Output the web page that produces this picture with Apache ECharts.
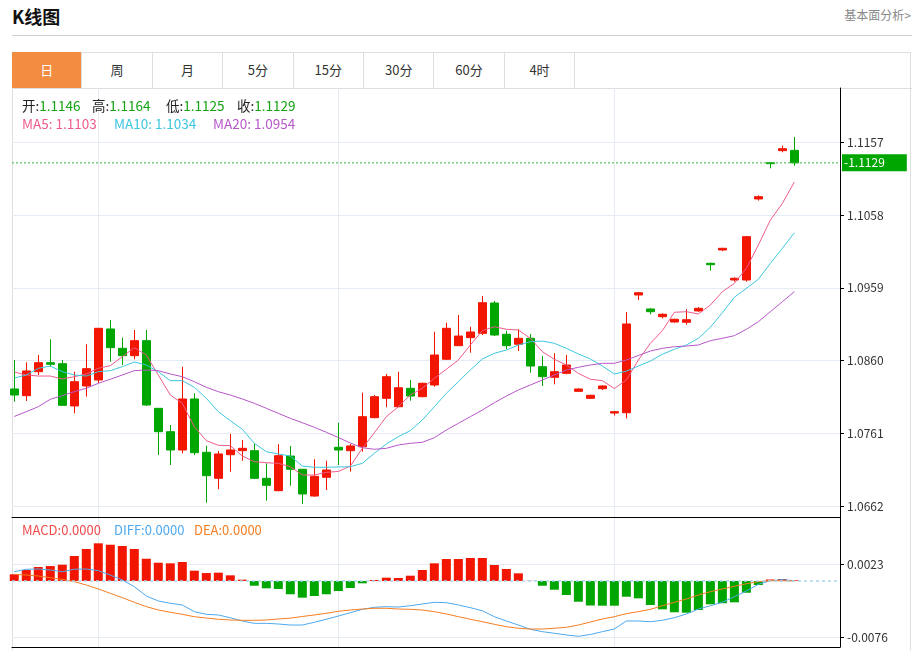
<!DOCTYPE html>
<html>
<head>
<meta charset="utf-8">
<script src="https://cdn.jsdelivr.net/npm/echarts@6/dist/echarts.min.js"></script>
<style>
  html,body{margin:0;padding:0;background:#fff;width:915px;height:650px;overflow:hidden;
    font-family:"Noto Sans CJK SC","Noto Sans",sans-serif;}
  .abs{position:absolute;white-space:nowrap;}
  #title{left:12px;top:4px;font-size:18px;font-weight:bold;color:#111;line-height:24px;}
  #more{right:4px;top:6px;font-size:12px;color:#888;line-height:18px;}
  #sep{left:12px;top:35px;width:900px;height:1px;background:#cfcfcf;}
  #box{left:12px;top:52px;width:899px;height:600px;border:1px solid #dedede;box-sizing:border-box;}
  #tabs{left:12px;top:52px;width:900px;height:37px;border-bottom:1px solid #dedede;box-sizing:border-box;}
  .tab{position:absolute;top:0;height:36px;line-height:36px;text-align:center;font-size:13px;color:#333;
    border-right:1px solid #dedede;box-sizing:border-box;}
  .tab.on{background:#f28c40;color:#fff;}
  .info{font-size:13.5px;line-height:18px;}
  .lbl{color:#222;}
  .grn{color:#13a313;}
  #chart{position:absolute;left:0;top:0;width:915px;height:650px;}
</style>
</head>
<body>
<div id="title" class="abs">K线图</div>
<div id="more" class="abs">基本面分析&gt;</div>
<div id="sep" class="abs"></div>
<div id="box" class="abs"></div>
<div id="tabs" class="abs"></div>
<div id="chart"></div>
<div id="info"></div>
<script>
// ---------- data ----------
var tabNames = ['日','周','月','5分','15分','30分','60分','4时'];
var priceTicks = [1.0662, 1.0761, 1.0860, 1.0959, 1.1058, 1.1157];
var macdTicks = [-0.0076, 0.0023];
var monthLines = [7, 27, 50];

var opens = [1.08215,1.08124,1.08450,1.08573,1.08559,1.07984,1.08256,1.08337,1.09031,1.08768,
1.08668,1.08872,1.07952,1.07634,1.07385,1.08079,1.07354,1.07000,1.07321,1.07376,
1.07376,1.07000,1.06832,1.07303,1.07123,1.06759,1.07014,1.07422,1.07376,1.07430,
1.07825,1.08088,1.07974,1.08224,1.08110,1.08269,1.08619,1.08804,1.08913,1.08972,
1.09384,1.08959,1.08823,1.08904,1.08518,1.08374,1.08428,1.08183,1.08088,1.08219,
1.07888,1.07892,1.09493,1.09303,1.09198,1.09126,1.09122,1.09276,1.09924,1.10105,
1.09697,1.09697,1.10799,1.11292,1.11456,1.1146];
var closes = [1.08133,1.08460,1.08573,1.08551,1.07993,1.08314,1.08491,1.09040,1.08777,1.08668,
1.08872,1.07997,1.07634,1.07385,1.08079,1.07349,1.07036,1.07331,1.07385,1.07408,
1.07000,1.06905,1.07308,1.07123,1.06787,1.07027,1.07113,1.07385,1.07440,1.07838,
1.08110,1.08382,1.08232,1.08119,1.08292,1.08677,1.09040,1.08935,1.08990,1.09388,
1.08949,1.08804,1.08904,1.08527,1.08382,1.08450,1.08541,1.08215,1.08129,1.08256,
1.07906,1.09099,1.09524,1.09266,1.09231,1.09163,1.09157,1.09312,1.09905,1.10128,
1.09720,1.10286,1.10830,1.11279,1.11483,1.1129];
var lows = [1.08042,1.08052,1.08405,1.08518,1.07984,1.07884,1.08110,1.08296,1.08586,1.08541,
1.08619,1.07984,1.07317,1.07181,1.07340,1.07317,1.06668,1.06851,1.07090,1.07240,
1.06990,1.06696,1.06825,1.06900,1.06651,1.06750,1.06841,1.07181,1.07090,1.07362,
1.07816,1.07966,1.07966,1.08056,1.08102,1.08246,1.08609,1.08804,1.08708,1.08949,
1.08935,1.08755,1.08731,1.08436,1.08256,1.08278,1.08415,1.08178,1.08079,1.08201,
1.07854,1.07816,1.09425,1.09231,1.09176,1.09116,1.09089,1.09266,1.09824,1.10091,
1.09674,1.09674,1.10776,1.11216,1.11434,1.1125];
var highs = [1.08609,1.08578,1.08677,1.08891,1.08609,1.08450,1.08823,1.09044,1.09153,1.08913,
1.09017,1.09017,1.07952,1.07725,1.08518,1.08156,1.07444,1.07371,1.07603,1.07521,
1.07476,1.07204,1.07463,1.07440,1.07123,1.07259,1.07240,1.07756,1.07467,1.08165,
1.08133,1.08419,1.08450,1.08337,1.08300,1.08994,1.09116,1.09221,1.09062,1.09479,
1.09411,1.09008,1.09027,1.08963,1.08663,1.08700,1.08677,1.08224,1.08137,1.08265,
1.07916,1.09262,1.09534,1.09312,1.09244,1.09171,1.09299,1.09326,1.09932,1.10136,
1.09734,1.10295,1.10849,1.11292,1.11524,1.1164];
var ma5 = [1.08446,1.08405,1.08391,1.08391,1.08351,1.08382,1.08419,1.08496,1.08532,1.08654,
1.08776,1.08677,1.08405,1.08133,1.08020,1.07702,1.07512,1.07449,1.07444,1.07303,
1.07226,1.07212,1.07204,1.07158,1.07045,1.07045,1.07082,1.07093,1.07167,1.07408,
1.07620,1.07838,1.07974,1.08133,1.08224,1.08360,1.08483,1.08609,1.08813,1.09008,
1.09062,1.09027,1.09017,1.08904,1.08722,1.08619,1.08541,1.08428,1.08347,1.08328,
1.08221,1.08337,1.08609,1.08836,1.09008,1.09258,1.09266,1.09235,1.09357,1.09538,
1.09652,1.09856,1.10173,1.10513,1.10740,1.1103];
var ma10 = [1.08364,1.08405,1.08496,1.08527,1.08450,1.08405,1.08391,1.08450,1.08464,1.08518,
1.08582,1.08541,1.08450,1.08328,1.08328,1.08238,1.08088,1.07906,1.07784,1.07667,
1.07476,1.07362,1.07331,1.07303,1.07167,1.07150,1.07150,1.07154,1.07158,1.07204,
1.07340,1.07467,1.07566,1.07648,1.07793,1.07974,1.08156,1.08314,1.08473,1.08623,
1.08700,1.08745,1.08813,1.08858,1.08867,1.08836,1.08768,1.08691,1.08623,1.08527,
1.08419,1.08457,1.08527,1.08595,1.08687,1.08755,1.08813,1.08904,1.09054,1.09252,
1.09462,1.09584,1.09707,1.09924,1.10128,1.1034];
var ma20 = [1.07841,1.07906,1.07974,1.08075,1.08124,1.08178,1.08224,1.08292,1.08347,1.08405,
1.08464,1.08473,1.08464,1.08419,1.08382,1.08314,1.08238,1.08178,1.08133,1.08079,
1.08020,1.07952,1.07884,1.07816,1.07756,1.07694,1.07626,1.07555,1.07480,1.07416,
1.07395,1.07408,1.07453,1.07476,1.07490,1.07552,1.07657,1.07748,1.07838,1.07929,
1.08028,1.08119,1.08201,1.08269,1.08337,1.08405,1.08473,1.08510,1.08541,1.08564,
1.08564,1.08609,1.08670,1.08731,1.08768,1.08790,1.08799,1.08813,1.08872,1.08904,
1.08940,1.09027,1.09130,1.09266,1.09402,1.0954];
var macd = [0.00091,0.00149,0.00190,0.00203,0.00221,0.00339,0.00434,0.00511,0.00492,0.00475,
0.00434,0.00302,0.00248,0.00240,0.00258,0.00140,0.00108,0.00113,0.00077,0.00018,
-0.00064,-0.00099,-0.00108,-0.00180,-0.00226,-0.00203,-0.00180,-0.00136,-0.00095,-0.00031,
0.00014,0.00045,0.00041,0.00072,0.00149,0.00240,0.00298,0.00298,0.00312,0.00312,
0.00217,0.00163,0.00104,0.00002,-0.00064,-0.00118,-0.00190,-0.00281,-0.00332,-0.00335,
-0.00335,-0.00213,-0.00235,-0.00325,-0.00384,-0.00424,-0.00430,-0.00393,-0.00316,-0.00302,
-0.00289,-0.00159,-0.00054,0.00020,0.00027,0.00010];
var diff = [0.00126,0.00159,0.00163,0.00149,0.00126,0.00159,0.00163,0.00140,0.00081,0.00014,
-0.00077,-0.00203,-0.00271,-0.00302,-0.00325,-0.00416,-0.00452,-0.00461,-0.00498,-0.00542,
-0.00574,-0.00574,-0.00583,-0.00597,-0.00597,-0.00560,-0.00519,-0.00475,-0.00430,-0.00384,
-0.00357,-0.00348,-0.00353,-0.00335,-0.00312,-0.00289,-0.00294,-0.00325,-0.00362,-0.00403,
-0.00484,-0.00542,-0.00597,-0.00655,-0.00687,-0.00709,-0.00732,-0.00750,-0.00725,-0.00687,
-0.00651,-0.00542,-0.00542,-0.00552,-0.00533,-0.00498,-0.00447,-0.00380,-0.00335,-0.00289,
-0.00213,-0.00136,-0.00045,0.00004,0.00018,0.00004];
var dea = [0.00091,0.00081,0.00068,0.00045,0.00023,-0.00009,-0.00054,-0.00108,-0.00167,-0.00226,
-0.00289,-0.00348,-0.00393,-0.00424,-0.00452,-0.00484,-0.00502,-0.00519,-0.00529,-0.00533,
-0.00533,-0.00529,-0.00515,-0.00504,-0.00481,-0.00461,-0.00438,-0.00411,-0.00393,-0.00380,
-0.00370,-0.00370,-0.00380,-0.00384,-0.00393,-0.00416,-0.00447,-0.00484,-0.00519,-0.00552,
-0.00587,-0.00620,-0.00641,-0.00651,-0.00651,-0.00641,-0.00628,-0.00597,-0.00556,-0.00515,
-0.00484,-0.00443,-0.00416,-0.00384,-0.00335,-0.00289,-0.00244,-0.00190,-0.00145,-0.00108,
-0.00072,-0.00037,-0.00009,0.00004,0.00004,0.0];

// ---------- colours ----------
var UP = '#f21500', DOWN = '#00a600', PRICE_LINE = '#3dbb3d';
var C_MA5 = '#ee5b8c', C_MA10 = '#3cc7df', C_MA20 = '#b657c8';
var C_MACD = '#f04a4a', C_DIFF = '#4ea9ef', C_DEA = '#f57d22';

// ---------- HTML texts ----------
(function(){
  var tabs = document.getElementById('tabs');
  tabNames.forEach(function(n,i){
    var d = document.createElement('div');
    d.className = 'tab' + (i===0?' on':'');
    d.style.left = (i*70.4) + 'px';
    d.style.width = '70.4px';
    d.textContent = n;
    tabs.appendChild(d);
  });
  var last = opens.length - 1;
  var info = document.getElementById('info');
  function put(x, y, html){
    var d = document.createElement('div');
    d.className = 'abs info';
    d.style.left = x + 'px'; d.style.top = y + 'px';
    d.innerHTML = html; info.appendChild(d);
  }
  put(22, 96, '<span class="lbl">开:</span><span class="grn">' + opens[last].toFixed(4) + '</span>');
  put(92, 96, '<span class="lbl">高:</span><span class="grn">' + highs[last].toFixed(4) + '</span>');
  put(166, 96, '<span class="lbl">低:</span><span class="grn">' + lows[last].toFixed(4) + '</span>');
  put(237, 96, '<span class="lbl">收:</span><span class="grn">' + closes[last].toFixed(4) + '</span>');
  put(22, 114, '<span style="color:'+C_MA5+'">MA5: ' + ma5[last].toFixed(4) + '</span>');
  put(114, 114, '<span style="color:'+C_MA10+'">MA10: ' + ma10[last].toFixed(4) + '</span>');
  put(213, 114, '<span style="color:'+C_MA20+'">MA20: ' + ma20[last].toFixed(4) + '</span>');
  var s = 'font-size:13px;';
  put(22, 520, '<span style="'+s+'color:'+C_MACD+'">MACD:0.0000</span>');
  put(114, 520, '<span style="'+s+'color:'+C_DIFF+'">DIFF:0.0000</span>');
  put(194, 520, '<span style="'+s+'color:'+C_DEA+'">DEA:0.0000</span>');
})();

// ---------- chart ----------
var chart = echarts.init(document.getElementById('chart'), null, {renderer:'canvas'});
var n = opens.length;
var X_MIN = -0.19, X_MAX = 68.8;
var kData = [], m5 = [], m10 = [], m20 = [], mb = [], dfl = [], del = [];
for (var i = 0; i < n; i++) {
  kData.push([i, opens[i], closes[i], lows[i], highs[i]]);
  m5.push([i, ma5[i]]); m10.push([i, ma10[i]]); m20.push([i, ma20[i]]);
  mb.push([i, macd[i]]); dfl.push([i, diff[i]]); del.push([i, dea[i]]);
}
var gridLine = {show:true, lineStyle:{color:'#e4ebf2', width:1}};
var lastClose = closes[n-1];
var priceLine = [[X_MIN, lastClose], [X_MAX, lastClose]];

function xAxisFor(g){
  return {type:'value', gridIndex:g, min:X_MIN, max:X_MAX,
    axisLine:{show:true, onZero:false, lineStyle:{color:'#000', width:1}},
    axisTick:{show:false, customValues:monthLines},
    axisLabel:{show:false},
    splitLine:gridLine};
}

chart.setOption({
  animation:false,
  textStyle:{fontFamily:'"Noto Sans CJK SC","Noto Sans",sans-serif'},
  grid:[
    {left:12, top:88, width:828, height:429},
    {left:12, top:517, width:828, height:130}
  ],
  xAxis:[xAxisFor(0), xAxisFor(1)],
  yAxis:[
    {type:'value', gridIndex:0, position:'right', min:1.06474, max:1.12308, scale:true,
      axisLine:{show:true, onZero:false, lineStyle:{color:'#000'}},
      axisTick:{show:true, length:4, customValues:priceTicks, lineStyle:{color:'#000'}},
      axisLabel:{customValues:priceTicks, color:'#333', fontSize:12, margin:7,
        formatter:function(v){return v.toFixed(4);}},
      splitLine:gridLine},
    {type:'value', gridIndex:1, position:'right', min:-0.00895, max:0.00868,
      axisLine:{show:true, onZero:false, lineStyle:{color:'#000'}},
      axisTick:{show:true, length:4, customValues:macdTicks, lineStyle:{color:'#000'}},
      axisLabel:{customValues:macdTicks, color:'#333', fontSize:12, margin:7,
        formatter:function(v){return v.toFixed(4);}},
      splitLine:gridLine}
  ],
  series:[
    {type:'candlestick', xAxisIndex:0, yAxisIndex:0, barWidth:9,
      dimensions:['idx','open','close','lowest','highest'],
      encode:{x:'idx', y:['open','close','lowest','highest']},
      data:kData,
      itemStyle:{color:UP, color0:DOWN, borderColor:UP, borderColor0:DOWN, borderWidth:1}
    },
    {type:'line', xAxisIndex:0, yAxisIndex:0, data:m5, showSymbol:false, symbol:'none',
      lineStyle:{color:C_MA5, width:1}},
    {type:'line', xAxisIndex:0, yAxisIndex:0, data:m10, showSymbol:false, symbol:'none',
      lineStyle:{color:C_MA10, width:1}},
    {type:'line', xAxisIndex:0, yAxisIndex:0, data:m20, showSymbol:false, symbol:'none',
      lineStyle:{color:C_MA20, width:1}},
    {type:'line', name:'last', xAxisIndex:0, yAxisIndex:0, data:priceLine, silent:true,
      showSymbol:false, symbol:'none', clip:false, z:5,
      itemStyle:{color:PRICE_LINE},
      lineStyle:{color:PRICE_LINE, type:[2,2], width:1},
      endLabel:{show:true, distance:2, formatter:'-' + lastClose.toFixed(4),
        color:'#fff', backgroundColor:DOWN, padding:[3,22,2,2], fontSize:12}
    },
    {type:'bar', xAxisIndex:1, yAxisIndex:1, data:mb, barWidth:9,
      itemStyle:{color:function(p){return p.value[1] >= 0 ? UP : DOWN;}},
      markLine:{symbol:'none', silent:true, animation:false, precision:5,
        data:[{yAxis:0}],
        lineStyle:{color:'#a9d6ec', type:[3,3], width:1.5},
        label:{show:false}}
    },
    {type:'line', xAxisIndex:1, yAxisIndex:1, data:dfl, showSymbol:false, symbol:'none',
      lineStyle:{color:C_DIFF, width:1}},
    {type:'line', xAxisIndex:1, yAxisIndex:1, data:del, showSymbol:false, symbol:'none',
      lineStyle:{color:C_DEA, width:1}}
  ]
});
</script>
</body>
</html>
